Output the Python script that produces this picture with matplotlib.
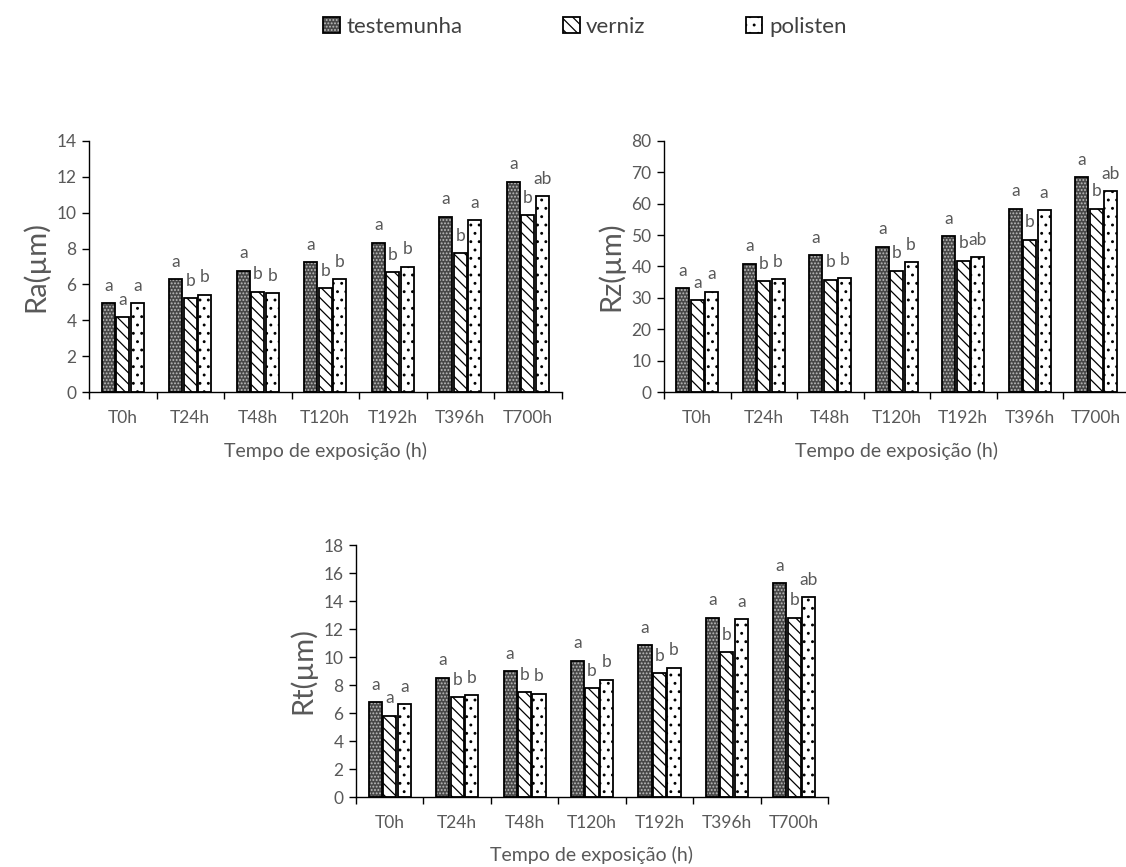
import matplotlib
matplotlib.use("Agg")
import matplotlib.pyplot as plt
from matplotlib.patches import Patch
import numpy as np

plt.rcParams['font.family'] = ['Lato', 'DejaVu Sans']
plt.rcParams['hatch.linewidth'] = 0.9

# categories and series
tempos = ["T0h", "T24h", "T48h", "T120h", "T192h", "T396h", "T700h"]
series = ["testemunha", "verniz", "polisten"]

ra_testemunha = [4.95, 6.29, 6.77, 7.24, 8.33, 9.76, 11.71]
ra_verniz = [4.17, 5.23, 5.60, 5.79, 6.68, 7.74, 9.85]
ra_polisten = [4.95, 5.42, 5.51, 6.29, 6.98, 9.57, 10.91]

rz_testemunha = [33.1, 40.8, 43.5, 46.3, 49.6, 58.4, 68.3]
rz_verniz = [29.2, 35.3, 35.8, 38.6, 41.8, 48.5, 58.4]
rz_polisten = [32.0, 35.9, 36.4, 41.3, 43.0, 57.9, 64.0]

rt_testemunha = [6.78, 8.51, 8.99, 9.75, 10.84, 12.80, 15.27]
rt_verniz = [5.81, 7.14, 7.49, 7.78, 8.85, 10.34, 12.80]
rt_polisten = [6.64, 7.28, 7.37, 8.39, 9.22, 12.69, 14.28]

# significance letters
let_testemunha = ["a", "a", "a", "a", "a", "a", "a"]
let_verniz = ["a", "b", "b", "b", "b", "b", "b"]
let_polisten_ra = ["a", "b", "b", "b", "b", "a", "ab"]
let_polisten_rz = ["a", "b", "b", "b", "ab", "a", "ab"]

GRAY = '#595959'
styles = [
    dict(color='#474747', edgecolor='#bdbdbd', hatch='.....'),
    dict(color='white', edgecolor='black', hatch='\\\\\\'),
    dict(color='white', edgecolor='black', hatch='..'),
]

W, H = 1126, 867
fig = plt.figure(figsize=(W / 100, H / 100), dpi=100)


def px_axes(left, right, bottom, top):
    return fig.add_axes([left / W, 1 - bottom / H, (right - left) / W, (bottom - top) / H])


def draw_panel(ax, vals, letters, ymax, ystep, ylabel):
    x = np.arange(len(tempos))
    offs = [-0.215, 0, 0.215]
    for v, lets, st, off in zip(vals, letters, styles, offs):
        ax.bar(x + off, v, 0.195, linewidth=0, **st)
        ax.bar(x + off, v, 0.195, fill=False, edgecolor='black', linewidth=1.3)
        for xi, vi, li in zip(x + off, v, lets):
            ax.annotate(li, (xi, vi), xytext=(0, 9), textcoords='offset points',
                        ha='center', va='baseline', fontsize=12.5, color=GRAY)
    ax.set_xlim(-0.5, len(tempos) - 0.5)
    ax.set_ylim(0, ymax)
    ax.set_yticks(np.arange(0, ymax + 0.1, ystep))
    ax.set_xticks(x)
    ax.set_xticklabels(tempos)
    ax.set_xticks(np.arange(-0.5, len(tempos)), minor=True)
    ax.tick_params(axis='x', which='major', length=0, pad=13, labelsize=12.5, labelcolor=GRAY)
    ax.tick_params(axis='x', which='minor', length=5, width=1, direction='out')
    ax.tick_params(axis='y', length=5, width=1, labelsize=12.5, labelcolor=GRAY, pad=4)
    for s in ['top', 'right']:
        ax.spines[s].set_visible(False)
    for s in ['left', 'bottom']:
        ax.spines[s].set_linewidth(1)
    ax.set_xlabel("Tempo de exposição (h)", fontsize=14, color=GRAY, labelpad=11)
    ax.set_ylabel(ylabel, fontsize=21, color=GRAY, labelpad=5)


ax1 = px_axes(89, 561.5, 392.3, 140.7)
draw_panel(ax1, [ra_testemunha, ra_verniz, ra_polisten],
           [let_testemunha, let_verniz, let_polisten_ra], 14, 2, "Ra(µm)")

ax2 = px_axes(664, 1129.5, 392.3, 140.7)
draw_panel(ax2, [rz_testemunha, rz_verniz, rz_polisten],
           [let_testemunha, let_verniz, let_polisten_rz], 80, 10, "Rz(µm)")

ax3 = px_axes(356, 828, 797, 545)
draw_panel(ax3, [rt_testemunha, rt_verniz, rt_polisten],
           [let_testemunha, let_verniz, let_polisten_ra], 18, 2, "Rt(µm)")

handles = []
for st in styles:
    handles.append((Patch(facecolor=st['color'], edgecolor=st['edgecolor'], hatch=st['hatch'], linewidth=0),
                    Patch(fill=False, edgecolor='black', linewidth=1.3)))
fig.legend(handles, series, loc='center', bbox_to_anchor=(585 / W, 1 - 27 / H),
           ncol=3, frameon=False, fontsize=16, labelcolor='#404040',
           handlelength=0.75, handleheight=0.75, handletextpad=0.3, columnspacing=4.5)

fig.savefig("out.png", dpi=100)
